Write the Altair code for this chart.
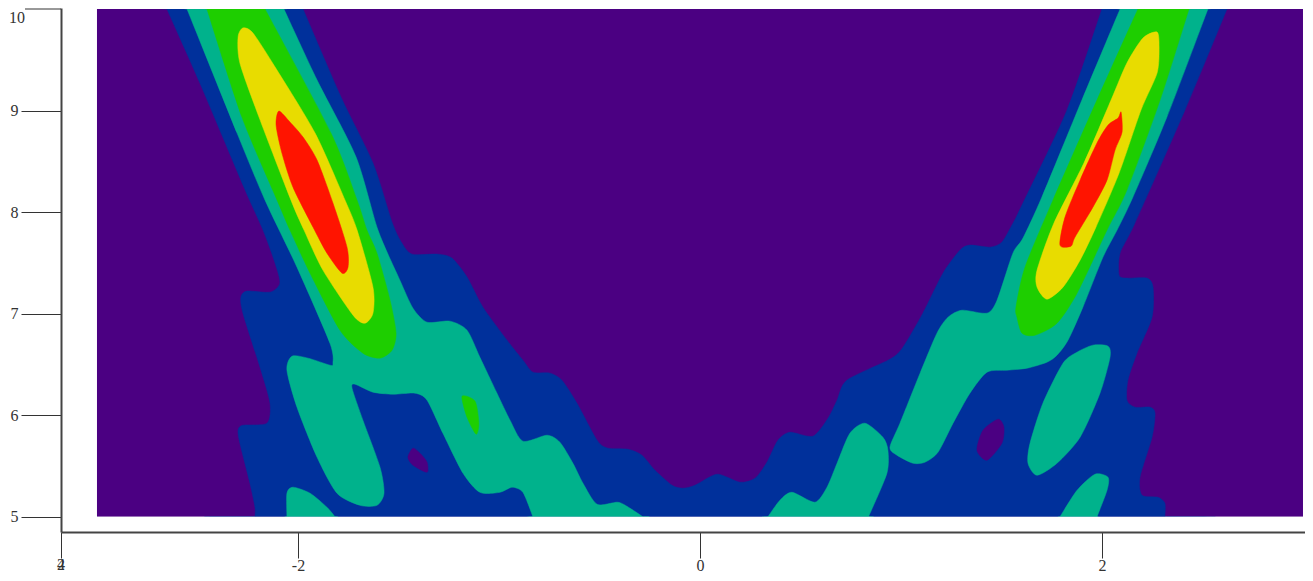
import altair as alt
import pandas as pd

# Contour regions, in data units: (x values, y values, colour key)
PURPLE = "#4B0082"
BLUE = "#00309B"
TEAL = "#00B28C"
GREEN = "#1ECE00"
YELLOW = "#E8DC00"
RED = "#FF1400"

frame_x = [-3.0, 3.0]
frame_y = [5.0, 10.0]

blue_x = [-2.652,-2.488,-2.269,-2.174,-2.114,-2.090,-2.139,-2.254,-2.284,-2.274,-2.189,-2.139,-2.154,-2.274,-2.298,-2.289,-2.239,-2.214,-2.214,
          2.313,2.313,2.279,2.199,2.189,2.249,2.264,2.239,2.164,2.124,2.129,2.174,2.249,2.254,2.224,2.124,2.085,2.090,2.164,2.413,2.622,
          2.000,1.826,1.602,1.552,1.502,1.443,1.343,1.294,1.209,1.109,1.010,0.945,0.731,0.682,0.637,0.562,0.448,0.388,0.333,0.274,0.199,0.085,-0.025,-0.085,-0.139,-0.224,-0.289,-0.358,-0.458,-0.512,-0.612,-0.687,-0.746,-0.831,-0.881,-0.960,-1.080,-1.159,-1.234,-1.303,-1.433,-1.483,-1.532,-1.627,-1.786,-1.975]
blue_y = [10,9.271,8.246,7.823,7.497,7.300,7.212,7.222,7.163,7.005,6.473,6.118,5.921,5.901,5.852,5.724,5.330,5.094,5,
          5,5.133,5.192,5.212,5.389,5.783,6.020,6.079,6.079,6.148,6.345,6.611,6.965,7.261,7.350,7.350,7.379,7.596,7.892,9.005,10,
          10,9.005,8.069,7.872,7.704,7.655,7.675,7.626,7.399,7.005,6.670,6.552,6.345,6.148,5.970,5.793,5.832,5.754,5.537,5.379,5.340,5.419,5.310,5.281,5.310,5.458,5.606,5.665,5.675,5.754,6.118,6.345,6.414,6.424,6.542,6.739,7.064,7.360,7.547,7.586,7.586,7.695,7.901,8.483,9.133,10]

hole_left_x = [-1.428,-1.453,-1.428,-1.358,-1.358,-1.393]
hole_left_y = [5.675,5.586,5.507,5.438,5.537,5.626]
hole_right_x = [1.483,1.512,1.502,1.428,1.378,1.408]
hole_right_y = [5.961,5.882,5.724,5.557,5.655,5.852]

teal_left_x = [-2.552,-2.303,-2.164,-2.005,-1.841,-1.826,-1.841,-1.950,-2.030,-2.055,-2.005,-1.905,-1.806,-1.692,-1.607,-1.572,-1.592,-1.677,-1.731,-1.716,-1.627,-1.527,-1.418,-1.358,-1.279,-1.179,-1.095,-0.995,-0.935,-0.881,-0.831,
               -0.284,-0.348,-0.408,-0.512,-0.582,-0.632,-0.697,-0.761,-0.881,-0.945,-1.010,-1.095,-1.159,-1.244,-1.358,-1.428,-1.493,-1.602,-1.711,-1.905,-2.070]
teal_left_y = [10,8.778,8.118,7.458,6.709,6.512,6.493,6.562,6.581,6.443,6.079,5.586,5.232,5.113,5.113,5.232,5.488,5.951,6.266,6.305,6.227,6.207,6.217,6.148,5.823,5.429,5.241,5.241,5.291,5.241,5,
               5,5.084,5.143,5.123,5.330,5.527,5.734,5.803,5.744,5.951,6.217,6.571,6.837,6.926,6.916,7.054,7.330,7.823,8.542,9.300,10]
teal_low_x = [-2.055,-2.055,-2.025,-1.940,-1.856,-1.816]
teal_low_y = [5,5.232,5.291,5.232,5.094,5]
teal_mid_x = [0.338,0.398,0.458,0.572,0.632,0.682,0.746,0.821,0.910,0.935,0.930,0.846,0.836]
teal_mid_y = [5,5.163,5.241,5.143,5.291,5.527,5.823,5.921,5.783,5.655,5.429,5.034,5]
teal_right_x = [2.090,1.900,1.701,1.607,1.557,1.478,1.428,1.303,1.234,1.179,1.095,0.995,0.945,0.980,1.060,1.119,1.184,1.259,1.343,1.428,1.527,1.627,1.726,1.776,1.831,1.905,2.005,2.075,2.154,2.323,2.527]
teal_right_y = [10,9.103,8.148,7.744,7.596,7.133,7.005,7.034,6.965,6.808,6.414,5.921,5.685,5.606,5.527,5.537,5.635,5.921,6.217,6.424,6.443,6.463,6.522,6.591,6.739,7.064,7.557,7.823,8.148,8.936,10]
teal_lobe_x = [1.955,2.030,2.040,1.990,1.891,1.776,1.677,1.632,1.642,1.706,1.806,1.876]
teal_lobe_y = [6.690,6.680,6.571,6.217,5.783,5.527,5.409,5.527,5.724,6.118,6.512,6.621]
teal_foot_x = [1.791,1.876,1.965,2.030,2.025,1.975]
teal_foot_y = [5,5.261,5.419,5.389,5.261,5]

green_left_x = [-2.453,-2.279,-2.104,-2.040,-1.940,-1.791,-1.677,-1.592,-1.532,-1.512,-1.542,-1.607,-1.657,-1.706,-1.836,-2.164]
green_left_y = [10,8.936,8.118,7.823,7.399,6.837,6.611,6.562,6.640,6.808,7.133,7.596,7.823,8.118,8.778,10]
green_spot_x = [-1.184,-1.119,-1.100,-1.114,-1.159]
green_spot_y = [6.187,6.138,5.921,5.813,5.980]
green_right_x = [2.179,1.975,1.756,1.617,1.572,1.577,1.602,1.667,1.776,1.876,2.025,2.124,2.289,2.433]
green_right_y = [10,9.103,8.118,7.458,7.064,6.965,6.808,6.788,6.906,7.202,7.823,8.217,9.103,10]

yellow_left_x = [-2.274,-2.298,-2.289,-2.194,-2.035,-1.970,-1.876,-1.726,-1.667,-1.627,-1.627,-1.706,-1.766,-1.915,-2.114,-2.224]
yellow_left_y = [9.813,9.724,9.468,8.936,8.118,7.823,7.429,6.985,6.906,7.005,7.261,7.823,8.118,8.778,9.429,9.763]
yellow_right_x = [2.274,2.284,2.274,2.194,2.085,1.970,1.891,1.806,1.726,1.677,1.677,1.761,1.910,2.045,2.124,2.204]
yellow_right_y = [9.773,9.626,9.369,9.005,8.384,7.852,7.527,7.261,7.143,7.261,7.429,7.892,8.483,9.103,9.468,9.714]

red_left_x = [-2.095,-2.109,-2.080,-2.025,-1.925,-1.856,-1.781,-1.751,-1.756,-1.826,-1.905,-1.975,-2.040]
red_left_y = [8.995,8.857,8.581,8.246,7.852,7.596,7.399,7.458,7.655,8.089,8.512,8.739,8.887]
red_right_x = [2.095,2.100,2.065,2.025,1.955,1.866,1.846,1.791,1.816,1.891,1.975,2.030,2.080]
red_right_y = [8.985,8.788,8.611,8.315,8.049,7.754,7.665,7.675,7.951,8.315,8.680,8.857,8.926]

regions = [
    (blue_x, blue_y, BLUE),
    (hole_left_x, hole_left_y, PURPLE),
    (hole_right_x, hole_right_y, PURPLE),
    (teal_left_x, teal_left_y, TEAL),
    (teal_low_x, teal_low_y, TEAL),
    (teal_mid_x, teal_mid_y, TEAL),
    (teal_right_x, teal_right_y, TEAL),
    (teal_lobe_x, teal_lobe_y, TEAL),
    (teal_foot_x, teal_foot_y, TEAL),
    (green_left_x, green_left_y, GREEN),
    (green_spot_x, green_spot_y, GREEN),
    (green_right_x, green_right_y, GREEN),
    (yellow_left_x, yellow_left_y, YELLOW),
    (yellow_right_x, yellow_right_y, YELLOW),
    (red_left_x, red_left_y, RED),
    (red_right_x, red_right_y, RED),
]

x_domain = [-3.179, 3.010]
y_domain = [4.850, 10.010]
x_ticks = [-3.179, -2, 0, 2]
y_ticks = [5, 6, 7, 8, 9]
top_tick = 10
corner_labels = ["4", "2"]

FONT = "Liberation Serif"
INK = "#333333"

x_scale = alt.Scale(domain=x_domain, nice=False, zero=False)
y_scale = alt.Scale(domain=y_domain, nice=False, zero=False)

x_axis = alt.Axis(
    values=x_ticks, title=None, grid=False, domainColor="#444444", domainWidth=2,
    tickColor=INK, tickWidth=1, tickSize=26, labelFont=FONT, labelFontSize=16, labelColor=INK,
    labelPadding=-1, labelFlush=False, labelOverlap=False,
    labelExpr="datum.value < -3 ? '' : '' + datum.value",
)
y_axis = alt.Axis(
    values=y_ticks, title=None, grid=False, domainColor="#444444", domainWidth=2,
    tickColor=INK, tickWidth=1, tickSize=40, labelFont=FONT, labelFontSize=16, labelColor=INK,
    labelPadding=3, labelFlush=False, labelOverlap=False,
    labelExpr="'' + datum.value",
)
x_enc = alt.X("x:Q", scale=x_scale, axis=x_axis)
y_enc = alt.Y("y:Q", scale=y_scale, axis=y_axis)

frame = alt.Chart(pd.DataFrame({"x": [frame_x[0]], "x2": [frame_x[1]], "y": [frame_y[0]], "y2": [frame_y[1]]})).mark_rect(
    color=PURPLE
).encode(x=x_enc, x2="x2:Q", y=y_enc, y2="y2:Q")

layers = [frame]
for xs, ys, colour in regions:
    # points on the frame edge are doubled so the smooth outline keeps its square corners there
    px, py = [], []
    for a, b in zip(xs, ys):
        n = 2 if b in frame_y else 1
        px += [a] * n
        py += [b] * n
    df = pd.DataFrame({"x": px, "y": py, "i": range(len(px))})
    layers.append(
        alt.Chart(df).mark_line(
            fill=colour, stroke=colour, strokeWidth=0.5,
            interpolate="cardinal-closed", tension=0.25,
        ).encode(x=x_enc, y=y_enc, order="i:Q")
    )

# white margins above and below the frame trim the small overshoot of the smoothed outlines
margins = pd.DataFrame({
    "x": [frame_x[0] - 0.05] * 2, "x2": [frame_x[1] + 0.005] * 2,
    "y": [frame_y[1], 4.868], "y2": [y_domain[1], frame_y[0]],
})
layers.append(
    alt.Chart(margins).mark_rect(color="white").encode(x=x_enc, x2="x2:Q", y=y_enc, y2="y2:Q")
)

corner = alt.Chart(pd.DataFrame({"x": [x_domain[0]] * 2, "t": corner_labels})).mark_text(
    font=FONT, fontSize=16, color=INK, baseline="middle", align="center"
).encode(x=x_enc, y=alt.value(557), text="t:N")
layers.append(corner)

top_df = pd.DataFrame({"y": [top_tick], "t": [str(top_tick)]})
top_rule = alt.Chart(top_df).mark_rule(color=INK, strokeWidth=1).encode(
    x=alt.value(-36), x2=alt.value(0), y=y_enc
)
top_text = alt.Chart(top_df).mark_text(
    font=FONT, fontSize=16, color=INK, align="right", baseline="middle", dy=9
).encode(x=alt.value(-36), y=y_enc, text="t:N")
layers += [top_rule, top_text]

chart = alt.layer(*layers).properties(
    width=1244, height=524,
    padding={"left": 53, "top": 0, "right": 0, "bottom": 41},
    autosize=alt.AutoSizeParams(type="none"),
    background="white",
).configure_view(stroke=None)

chart.save("out.html", embed_options={"renderer": "svg", "actions": False})
